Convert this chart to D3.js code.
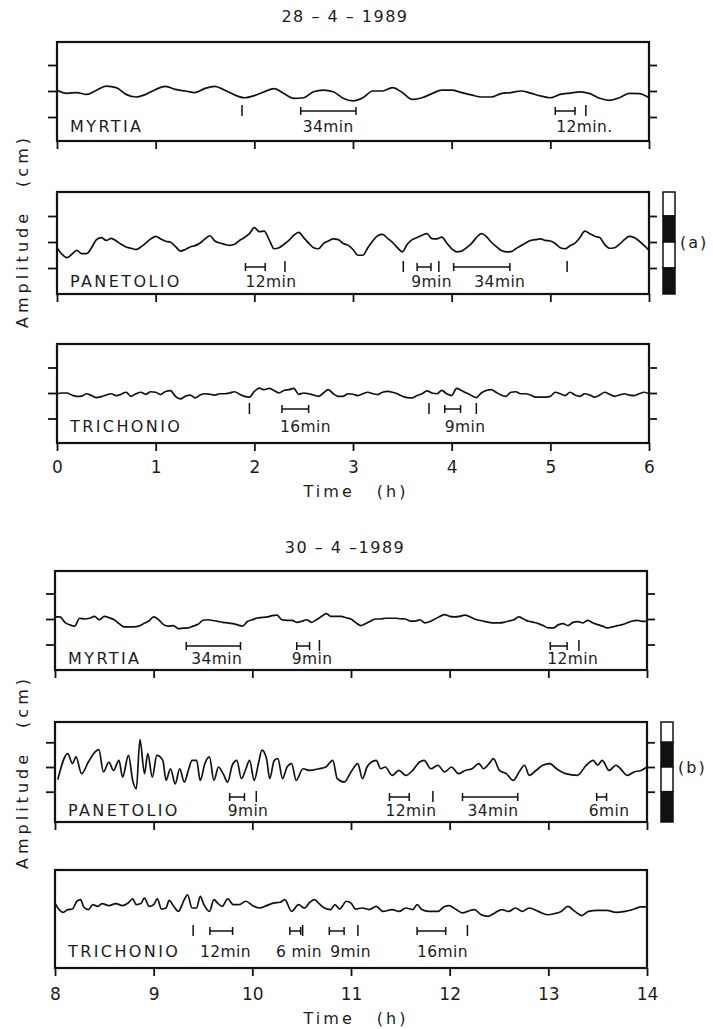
<!DOCTYPE html>
<html>
<head>
<meta charset="utf-8">
<script src="https://cdn.jsdelivr.net/npm/d3@7"></script>
<style>
body { margin: 0; background: #fff; }
svg text { font-family: "DejaVu Sans", sans-serif; fill: #1c1c1c; }
</style>
</head>
<body>
<svg id="chart" width="713" height="1029"></svg>
<script>
"use strict";

// time axes (h)
var hoursA = [0, 1, 2, 3, 4, 5, 6];
var hoursB = [8, 9, 10, 11, 12, 13, 14];

// amplitude (cm), 28-4-1989, sampled every 0.1 h / 0.05 h from t=0
var myrtiaA = [0.3,-0.9,-0.6,-1.3,0.3,1.9,1.3,-1.3,-2.3,-1.3,
  0.6,1.8,0.6,0,-0.6,1.0,1.8,0.3,-1.5,-2.6,
  -1.8,-0.3,0.9,-1.0,-2.8,-2.6,-0.3,0.3,-0.3,-2.8,
  -3.8,-2.6,0,0,1.3,-0.6,-3.2,-2.6,-1.0,0.3,
  0.3,-0.6,-1.5,-2.3,-2.3,-1.0,-0.6,0,-0.8,-1.9,
  -2.6,-1.3,-0.8,-0.3,-1.0,-2.8,-3.6,-2.6,-0.9,-1.0,
  -2.6];
var panetolioA = [-2.2,-4.7,-6.0,-4.7,-3.2,-4.5,-4.5,-2.2,0.9,1.7,
  0.6,1.4,0.4,-0.9,-1.9,-2.4,-2.9,-1.9,-0.4,1.2,
  2.2,1.2,0.3,-0.1,-1.7,-3.5,-2.9,-1.9,-1.4,-0.4,
  1.2,2.4,0.4,-0.4,-0.9,-1.3,-0.9,0.6,1.7,3.2,
  5.5,4.0,4.2,0.9,-2.6,-2.2,-0.9,0.6,2.6,3.7,
  1.7,-0.4,-2.2,-2.6,-0.6,0.4,1.2,0.9,-0.6,-1.2,
  -2.9,-5.1,-5.1,-2.2,0.4,2.4,2.9,1.4,-0.1,-2.2,
  -3.8,-0.9,0.9,1.7,2.6,3.2,1.3,1.2,1.9,-0.4,
  -2.6,-3.8,-3.5,-2.2,-0.6,1.7,3.2,2.2,0,-1.7,
  -3.2,-3.8,-3.7,-2.6,-1.4,-0.4,0.6,0.9,1.2,0.6,
  0.4,-0.6,-2.2,-2.6,-1.4,-0.4,1.7,4.2,3.2,2.2,
  1.7,-0.9,-2.4,-2.2,-0.9,0.9,2.2,1.7,0.4,-1.3,
  -3.2];
var trichonioA = [-0.3,0,0,-0.8,-1.3,-1.2,-0.3,-1.0,-1.8,-1.4,
  -0.8,-0.3,-1.0,-0.5,0.3,-1.3,-0.3,0.3,-0.5,0.5,
  0.3,-0.6,0.6,0.9,-1.3,-2.3,-1.3,-0.8,-1.9,-0.8,
  -0.3,-0.5,-0.8,-0.3,-0.3,0,0.5,-0.5,-1.3,-1.6,
  0.6,1.9,1.3,1.8,1.0,0,1.0,1.3,1.8,-0.5,
  0,-0.3,-0.8,-1.3,0,1.3,-0.3,-1.3,-1.3,-0.3,
  -0.5,-1.0,-0.3,0.3,-0.3,-0.6,0.3,0.6,0.3,-0.3,
  -1.3,-1.8,-1.9,-1.0,-0.3,0.8,0,-0.3,1.0,-0.3,
  -1.0,1.8,1.0,0,-1.0,-1.8,0,1.0,1.3,0.3,
  -0.8,-1.3,0.3,0.5,-0.3,-0.3,-0.8,-1.6,-1.6,-1.6,
  -1.3,0.3,-0.3,-1.0,0.3,-0.8,-1.3,-0.3,-0.8,-1.6,
  -0.8,0.3,-0.5,-1.3,-0.8,-0.3,-0.8,-1.0,-0.3,0.3,
  -0.3];

// amplitude (cm), 30-4-1989
var myrtiaB = [0.8,0.8,-1.3,-2.3,-2.8,0.3,0,0.3,1.0,-0.3,
  1.0,0.5,-0.3,-1.8,-3.1,-3.1,-3.1,-2.8,-1.8,-0.8,
  0.8,-0.3,-2.2,-2.8,-2.6,-3.8,-3.6,-3.5,-2.8,-2.1,
  -0.5,-0.3,-0.6,-0.9,-1.3,-1.5,-1.8,-2.3,-2.8,-1.0,
  -0.3,0.4,0.6,0.8,1.3,1.5,-0.3,-0.5,-0.5,-1.3,
  -0.9,-0.3,-1.3,-0.3,1.0,2.1,1.0,1.0,1.0,0.5,
  0,-1.5,-2.6,-1.8,-0.8,0,0,0.3,0.3,0.3,
  0.1,0,-0.8,-0.8,-0.3,-1.5,-1.0,0,1.0,1.7,
  1.0,0.8,1.0,1.5,1.0,0,-0.5,-0.9,-1.3,-1.5,
  -1.5,-1.3,-0.8,-0.3,0.8,0,-0.9,-1.3,-1.8,-2.6,
  -3.5,-3.5,-2.3,-1.8,-2.6,-1.3,-1.0,-1.5,-0.5,-1.5,
  -2.2,-2.8,-3.5,-3.1,-2.6,-2.2,-1.5,-0.8,-0.5,-0.9,
  -0.9];
// [time h, amplitude cm] at turning points
var panetolioB = [[8.028,-5.1],[8.130,5.4],[8.176,1.4],[8.213,4.1],[8.269,-2.7],[8.338,2.0],
  [8.407,6.1],[8.444,7.0],[8.491,-2.0],[8.546,2.0],[8.593,-1.4],[8.648,2.7],[8.685,-4.1],
  [8.745,4.7],[8.787,-5.4],[8.824,-8.8],[8.861,11.1],[8.907,-2.7],[8.940,5.4],[8.986,-4.1],
  [9.032,4.7],[9.093,2.7],[9.125,-5.4],[9.171,-0.7],[9.218,-6.8],[9.264,-0.7],[9.310,-6.1],
  [9.356,-0.7],[9.389,2.7],[9.435,2.7],[9.472,-5.4],[9.519,1.4],[9.565,4.1],[9.611,-5.4],
  [9.657,0],[9.704,-2.7],[9.750,-6.1],[9.796,0.7],[9.843,2.7],[9.889,-4.7],[9.935,-0.7],
  [9.972,2.7],[10.019,-5.4],[10.065,2.0],[10.097,6.8],[10.144,3.4],[10.176,-4.7],[10.222,2.7],
  [10.259,3.4],[10.306,-4.7],[10.352,0],[10.398,1.4],[10.444,-5.4],[10.514,-0.7],[10.583,-1.4],
  [10.676,-0.7],[10.745,0],[10.815,2.7],[10.861,-4.7],[10.931,-6.1],[11.000,-2.0],[11.069,1.4],
  [11.116,-4.7],[11.162,0],[11.208,2.0],[11.255,2.7],[11.301,-0.7],[11.347,0],[11.417,-3.4],
  [11.486,-1.4],[11.556,-3.4],[11.625,-1.4],[11.694,2.0],[11.741,2.7],[11.810,-0.7],[11.880,0.7],
  [11.949,-2.0],[12.019,0],[12.088,-2.7],[12.157,-1.4],[12.227,-0.7],[12.296,1.4],[12.343,-0.7],
  [12.412,2.0],[12.444,3.4],[12.505,-1.4],[12.574,-2.7],[12.644,-5.4],[12.713,-1.4],[12.759,0.7],
  [12.806,-3.4],[12.875,-1.4],[12.944,0.7],[13.014,1.4],[13.083,-0.7],[13.176,-2.7],[13.292,-3.4],
  [13.384,0.7],[13.454,2.7],[13.500,0.7],[13.546,2.7],[13.616,-1.4],[13.685,0.7],[13.731,-0.7],
  [13.801,-3.4],[13.870,-2.0],[13.940,-1.4],[14.000,0]];
var trichonioB = [[8.000,1.9],[8.037,-0.4],[8.083,-1.7],[8.130,-0.6],[8.176,-0.4],[8.222,2.6],
  [8.259,3.2],[8.292,0.4],[8.338,-0.6],[8.384,1.3],[8.431,0.6],[8.477,1.7],[8.546,0.9],
  [8.616,1.7],[8.685,0.9],[8.741,1.9],[8.787,3.5],[8.824,1.3],[8.870,1.7],[8.907,3.8],
  [8.954,0.6],[9.000,1.3],[9.037,3.5],[9.079,-0.4],[9.125,0],[9.157,2.9],[9.204,0.6],
  [9.250,-1.3],[9.310,3.2],[9.343,5.1],[9.389,0],[9.435,0],[9.472,4.5],[9.509,1.3],
  [9.565,-1.3],[9.611,3.2],[9.648,1.9],[9.694,0.6],[9.750,3.5],[9.806,1.3],[9.866,1.3],
  [9.935,2.6],[10.005,0.9],[10.074,0],[10.144,0.9],[10.213,1.9],[10.282,2.2],[10.329,3.2],
  [10.398,-1.3],[10.468,1.3],[10.528,0],[10.583,2.2],[10.630,3.2],[10.676,1.7],[10.731,0],
  [10.792,-0.6],[10.838,1.3],[10.884,-0.4],[10.954,2.6],[11.000,1.9],[11.046,-0.4],[11.116,0],
  [11.185,-0.6],[11.255,0.6],[11.324,-1.3],[11.417,-0.6],[11.486,-1.3],[11.556,0],[11.625,-0.6],
  [11.671,1.3],[11.718,-0.6],[11.787,-1.3],[11.880,-1.3],[11.949,0.6],[11.995,0.9],[12.065,-0.6],
  [12.134,-1.9],[12.181,-1.3],[12.250,-0.6],[12.319,-2.6],[12.389,-3.2],[12.458,-1.9],[12.528,-0.6],
  [12.597,-1.3],[12.667,0],[12.736,-1.3],[12.806,0],[12.898,-1.3],[12.991,-2.6],[13.060,-2.2],
  [13.130,-1.3],[13.199,0.6],[13.269,-1.3],[13.338,-2.9],[13.407,-1.3],[13.500,-0.9],[13.593,-0.9],
  [13.685,-1.7],[13.778,-1.3],[13.870,-0.4],[13.940,0.4],[14.000,0.4]];

// period marks: spans [from, to] (h), single ticks (h), notes [h, text]
var myrtiaA_spans = [[2.47, 3.03], [5.05, 5.25]];
var myrtiaA_marks = [1.875, 5.36];
var myrtiaA_notes = [[2.49, "34min"], [5.06, "12min."]];
var panetolioA_spans = [[1.91, 2.11], [3.65, 3.79], [4.02, 4.59]];
var panetolioA_marks = [2.31, 3.51, 3.87, 5.17];
var panetolioA_notes = [[1.91, "12min"], [3.59, "9min"], [4.23, "34min"]];
var trichonioA_spans = [[2.28, 2.55], [3.93, 4.09]];
var trichonioA_marks = [1.95, 3.77, 4.25];
var trichonioA_notes = [[2.26, "16min"], [3.93, "9min"]];
var myrtiaB_spans = [[9.33, 9.88], [10.45, 10.58], [13.02, 13.19]];
var myrtiaB_marks = [10.68, 13.31];
var myrtiaB_notes = [[9.38, "34min"], [10.40, "9min"], [12.99, "12min"]];
var panetolioB_spans = [[9.77, 9.92], [11.39, 11.59], [12.13, 12.69], [13.49, 13.59]];
var panetolioB_marks = [10.04, 11.83];
var panetolioB_notes = [[9.75, "9min"], [11.35, "12min"], [12.18, "34min"], [13.41, "6min"]];
var trichonioB_spans = [[9.57, 9.80], [10.38, 10.49], [10.78, 10.93], [11.67, 11.96]];
var trichonioB_marks = [9.40, 10.51, 11.07, 12.18];
var trichonioB_notes = [[9.47, "12min"], [10.24, "6 min"], [10.79, "9min"], [11.67, "16min"]];

var yTickValues = [-10, 0, 10];   // cm
var scaleBarEdges = [10, 0, -10];  // cm, black/white boundaries

function grid(values, start, step) {
    return values.map(function(v, i) { return [start + i * step, v]; });
}

var groups = [
    { title: "28 \u2013 4 \u2013 1989", titleY: 22, hours: hoursA, x0: 57, x1: 649,
      labelPad: 10, timeY: 497, ampY: 231, tag: "(a)",
      panels: [
        { name: "MYRTIA", top: 42, bottom: 141, zero: 91, unit: 26, yticks: true,
          data: grid(myrtiaA, 0, 0.1), spans: myrtiaA_spans, marks: myrtiaA_marks,
          notes: myrtiaA_notes, markY: 111, textY: 132 },
        { name: "PANETOLIO", top: 192, bottom: 294, zero: 242, unit: 26, yticks: true, bar: true,
          data: grid(panetolioA, 0, 0.05), spans: panetolioA_spans, marks: panetolioA_marks,
          notes: panetolioA_notes, markY: 267, textY: 287 },
        { name: "TRICHONIO", top: 344, bottom: 443, zero: 393, unit: 25.5, yticks: true, last: true,
          data: grid(trichonioA, 0, 0.05), spans: trichonioA_spans, marks: trichonioA_marks,
          notes: trichonioA_notes, markY: 409, textY: 432 }
      ] },
    { title: "30 \u2013 4 \u20131989", titleY: 553, hours: hoursB, x0: 55, x1: 647,
      labelPad: 12, timeY: 1024, ampY: 772, tag: "(b)",
      panels: [
        { name: "MYRTIA", top: 571, bottom: 670, zero: 619, unit: 25.5, yticks: true,
          data: grid(myrtiaB, 8, 0.05), spans: myrtiaB_spans, marks: myrtiaB_marks,
          notes: myrtiaB_notes, markY: 646, textY: 664 },
        { name: "PANETOLIO", top: 722, bottom: 822, zero: 767, unit: 24.7, yticks: true, bar: true,
          data: panetolioB, spans: panetolioB_spans, marks: panetolioB_marks,
          notes: panetolioB_notes, markY: 797, textY: 816 },
        { name: "TRICHONIO", top: 870, bottom: 968, zero: 908, unit: 26, yticks: false, last: true,
          data: trichonioB, spans: trichonioB_spans, marks: trichonioB_marks,
          notes: trichonioB_notes, markY: 931, textY: 957 }
      ] }
];

var svg = d3.select("#chart");

function draw_panel(g, x, p) {
    var y = d3.scaleLinear()
        .domain([-10, 10])
        .range([p.zero + p.unit, p.zero - p.unit]);
    var pg = g.append("g");

    // frame
    pg.append("rect")
        .attr("x", x.range()[0]).attr("y", p.top)
        .attr("width", x.range()[1] - x.range()[0])
        .attr("height", p.bottom - p.top)
        .attr("fill", "none").attr("stroke", "#111").attr("stroke-width", 2.2);

    // time ticks
    var axis = d3.axisBottom(x).tickValues(g.datum().hours).tickSize(8)
        .tickPadding(g.datum().labelPad)
        .tickFormat(p.last ? d3.format("d") : function() { return ""; });
    var ax = pg.append("g").attr("transform", "translate(0," + p.bottom + ")").call(axis);
    ax.select(".domain").remove();
    ax.selectAll("line").attr("stroke", "#111").attr("stroke-width", 1.8);
    ax.selectAll("text").attr("font-size", 17).attr("fill", "#1c1c1c")
        .style("font-family", "\"DejaVu Sans\", sans-serif");

    // amplitude ticks, both sides
    if (p.yticks) {
        var l = pg.append("g").attr("transform", "translate(" + x.range()[0] + ",0)")
            .call(d3.axisLeft(y).tickValues(yTickValues).tickSize(9).tickFormat(""));
        var r = pg.append("g").attr("transform", "translate(" + x.range()[1] + ",0)")
            .call(d3.axisRight(y).tickValues(yTickValues).tickSize(8).tickFormat(""));
        [l, r].forEach(function(a) {
            a.select(".domain").remove();
            a.selectAll("line").attr("stroke", "#111").attr("stroke-width", 1.8);
        });
    }

    // record
    var line = d3.line()
        .curve(d3.curveMonotoneX)
        .x(function(d) { return x(d[0]); })
        .y(function(d) { return y(d[1]); });
    pg.append("path")
        .attr("d", line(p.data))
        .attr("fill", "none").attr("stroke", "#111")
        .attr("stroke-width", 1.7).attr("stroke-linejoin", "round");

    // period marks
    var spans = pg.selectAll("g.span").data(p.spans).enter().append("g").attr("class", "span");
    spans.append("line")
        .attr("x1", function(d) { return x(d[0]); }).attr("x2", function(d) { return x(d[1]); })
        .attr("y1", p.markY).attr("y2", p.markY);
    spans.append("line")
        .attr("x1", function(d) { return x(d[0]); }).attr("x2", function(d) { return x(d[0]); })
        .attr("y1", p.markY - 4).attr("y2", p.markY + 4);
    spans.append("line")
        .attr("x1", function(d) { return x(d[1]); }).attr("x2", function(d) { return x(d[1]); })
        .attr("y1", p.markY - 4).attr("y2", p.markY + 4);
    spans.selectAll("line").attr("stroke", "#111").attr("stroke-width", 1.5);

    pg.selectAll("line.mark").data(p.marks).enter().append("line")
        .attr("class", "mark")
        .attr("x1", x).attr("x2", x)
        .attr("y1", p.markY - 6).attr("y2", p.markY + 5)
        .attr("stroke", "#111").attr("stroke-width", 1.5);

    pg.selectAll("text.note").data(p.notes).enter().append("text")
        .attr("class", "note")
        .attr("x", function(d) { return x(d[0]); })
        .attr("y", p.textY)
        .attr("font-size", 15.5).attr("letter-spacing", 0.4)
        .text(function(d) { return d[1]; });

    // station name
    pg.append("text")
        .attr("x", x.range()[0] + 13).attr("y", p.textY)
        .attr("font-size", 16).attr("letter-spacing", 2.4)
        .text(p.name);

    // amplitude scale bar
    if (p.bar) {
        var edges = [y.invert(p.top)].concat(scaleBarEdges, [y.invert(p.bottom)]);
        var segs = d3.pairs(edges);
        pg.selectAll("rect.seg").data(segs).enter().append("rect")
            .attr("class", "seg")
            .attr("x", x.range()[1] + 14).attr("width", 12)
            .attr("y", function(d) { return y(d[0]); })
            .attr("height", function(d) { return y(d[1]) - y(d[0]); })
            .attr("fill", function(d, i) { return i % 2 === 0 ? "#fff" : "#111"; })
            .attr("stroke", "#111").attr("stroke-width", 1.5);
        pg.append("text")
            .attr("x", x.range()[1] + 31).attr("y", p.zero + 6)
            .attr("font-size", 16).attr("letter-spacing", 2)
            .text(g.datum().tag);
    }
}

groups.forEach(function(grp) {
    var g = svg.append("g").datum(grp);
    var x = d3.scaleLinear()
        .domain(d3.extent(grp.hours))
        .range([grp.x0, grp.x1]);

    g.append("text")
        .attr("x", 345).attr("y", grp.titleY)
        .attr("text-anchor", "middle")
        .attr("font-size", 16).attr("letter-spacing", 1.5)
        .text(grp.title);

    grp.panels.forEach(function(p) { draw_panel(g, x, p); });

    g.append("text")
        .attr("x", 356).attr("y", grp.timeY)
        .attr("text-anchor", "middle")
        .attr("font-size", 16).attr("letter-spacing", 3)
        .style("word-spacing", "14px")
        .text("Time (h)");

    g.append("text")
        .attr("transform", "translate(28," + grp.ampY + ") rotate(-90)")
        .attr("text-anchor", "middle")
        .attr("font-size", 16).attr("letter-spacing", 4)
        .style("word-spacing", "14px")
        .text("Amplitude (cm)");
});
</script>
</body>
</html>
